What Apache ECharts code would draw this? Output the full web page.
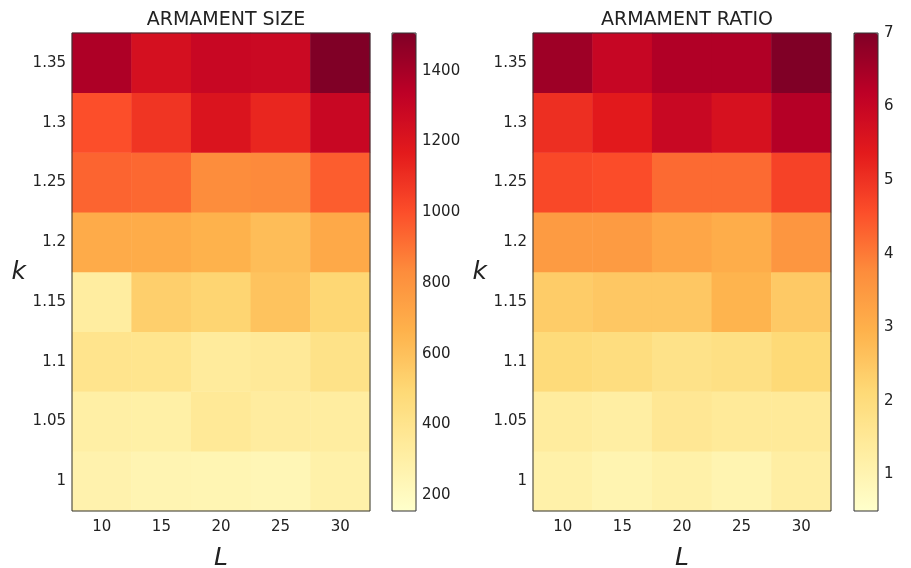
<!DOCTYPE html>
<html>
<head>
<meta charset="utf-8">
<script src="https://cdn.jsdelivr.net/npm/echarts@6/dist/echarts.min.js"></script>
<style>
  html, body { margin: 0; padding: 0; background: #fff; }
  #chart { width: 911px; height: 568px; }
</style>
</head>
<body>
<div id="chart"></div>
<script>
// L values (columns) and k values (rows, bottom to top)
const lValues = ['10', '15', '20', '25', '30']
const kValues = ['1', '1.05', '1.1', '1.15', '1.2', '1.25', '1.3', '1.35']

// armament size, one row per k (bottom to top), columns follow lValues
const sizeRows = [
  [275, 255, 250, 240, 290],
  [305, 300, 360, 330, 325],
  [400, 395, 340, 355, 420],
  [325, 535, 510, 590, 500],
  [695, 690, 660, 615, 705],
  [940, 930, 830, 840, 960],
  [1000, 1080, 1210, 1130, 1290],
  [1380, 1235, 1290, 1280, 1507],
]

// armament ratio
const ratioRows = [
  [1.15, 1.0, 1.15, 1.0, 1.25],
  [1.35, 1.25, 1.55, 1.45, 1.45],
  [2.05, 1.95, 1.75, 1.85, 2.1],
  [2.4, 2.5, 2.5, 2.9, 2.45],
  [3.45, 3.45, 3.2, 3.05, 3.55],
  [4.65, 4.6, 4.2, 4.2, 4.75],
  [5.05, 5.4, 5.95, 5.65, 6.3],
  [6.6, 6.0, 6.35, 6.35, 7.0],
]

const sizeTicks = [200, 400, 600, 800, 1000, 1200, 1400]
const ratioTicks = [1, 2, 3, 4, 5, 6, 7]

const ylorrd = ['#ffffcc', '#ffeda0', '#fed976', '#feb24c', '#fd8d3c', '#fc4e2a', '#e31a1c', '#bd0026', '#800026']

const toCells = rows => {
  const out = []
  rows.forEach((row, yi) => {
    row.forEach((v, xi) => out.push([xi, yi, v]))
  })
  return out
}

const font = 'DejaVu Sans'
const textColor = '#222'

const plotTop = 33
const plotHeight = 478
const panels = [
  { left: 72, cbLeft: 392, title: 'ARMAMENT SIZE', rows: sizeRows, min: 155, max: 1507, ticks: sizeTicks },
  { left: 533, cbLeft: 854, title: 'ARMAMENT RATIO', rows: ratioRows, min: 0.5, max: 7, ticks: ratioTicks },
]

const grid = []
const xAxis = []
const yAxis = []
const series = []
const visualMap = []
const title = []

panels.forEach((p, i) => {
  // heatmap grid
  grid.push({
    left: p.left, top: plotTop, width: 298, height: plotHeight,
    outerBoundsMode: 'none', containLabel: false,
    show: true, borderColor: '#333', borderWidth: 1, backgroundColor: 'transparent', z: 5,
  })
  // colorbar grid (just for border and ticks)
  grid.push({
    left: p.cbLeft, top: plotTop, width: 24, height: plotHeight,
    outerBoundsMode: 'none', containLabel: false,
    show: true, borderColor: '#333', borderWidth: 1, backgroundColor: 'transparent', z: 5,
  })
  const g = i * 2
  xAxis.push({
    type: 'category', gridIndex: g, data: lValues,
    name: 'L', nameLocation: 'middle', nameGap: 35,
    nameTextStyle: { fontFamily: font, fontStyle: 'italic', fontSize: 25, color: textColor },
    axisLine: { show: false },
    axisTick: { alignWithLabel: true, length: 5, lineStyle: { color: '#333' } },
    axisLabel: { fontFamily: font, fontSize: 15, color: textColor, margin: 9 },
    splitLine: { show: false },
  })
  yAxis.push({
    type: 'category', gridIndex: g, data: kValues,
    name: 'k', nameLocation: 'middle', nameRotate: 0, nameGap: 46,
    nameTextStyle: { fontFamily: font, fontStyle: 'italic', fontSize: 25, color: textColor },
    axisLine: { show: false },
    axisTick: { alignWithLabel: true, length: 5, lineStyle: { color: '#333' } },
    axisLabel: { fontFamily: font, fontSize: 15, color: textColor, margin: 6 },
    splitLine: { show: false },
  })
  xAxis.push({ type: 'value', gridIndex: g + 1, show: false })
  yAxis.push({
    type: 'value', gridIndex: g + 1, min: p.min, max: p.max, position: 'right',
    axisLine: { show: false },
    axisTick: { show: true, length: 5, customValues: p.ticks, lineStyle: { color: '#333' } },
    axisLabel: {
      fontFamily: font, fontSize: 15, color: textColor, margin: 6,
      customValues: p.ticks, formatter: v => String(v),
    },
    splitLine: { show: false },
  })
  series.push({
    type: 'heatmap', xAxisIndex: g, yAxisIndex: g,
    data: toCells(p.rows),
    itemStyle: { borderWidth: 0 },
    emphasis: { disabled: true },
  })
  visualMap.push({
    type: 'continuous', seriesIndex: i, min: p.min, max: p.max,
    calculable: false, hoverLink: false, text: null, showLabel: false,
    left: p.cbLeft, top: plotTop, padding: 0,
    itemWidth: 24, itemHeight: plotHeight,
    inRange: { color: ylorrd },
  })
  title.push({
    text: p.title, left: p.left + 149, top: 6, textAlign: 'center',
    textStyle: { fontFamily: font, fontWeight: 'normal', fontSize: 19, color: textColor },
  })
})

const chart = echarts.init(document.getElementById('chart'))
chart.setOption({
  animation: false,
  backgroundColor: '#fff',
  title, grid, xAxis, yAxis, series, visualMap,
})
</script>
</body>
</html>
